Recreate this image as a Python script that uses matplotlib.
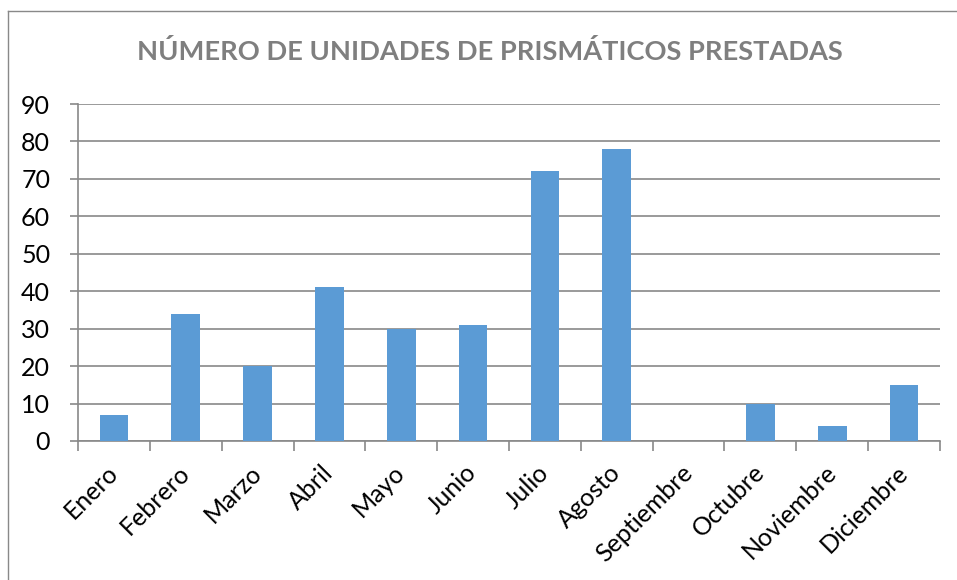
import numpy as np
import matplotlib.pyplot as plt
from matplotlib.lines import Line2D

# Datos
meses = ["Enero", "Febrero", "Marzo", "Abril", "Mayo", "Junio", "Julio",
         "Agosto", "Septiembre", "Octubre", "Noviembre", "Diciembre"]
unidades = [7, 34, 20, 41, 30, 31, 72, 78, 0, 10, 4, 15]
yticks = np.arange(0, 100, 10)

plt.rcParams['font.family'] = ['Lato', 'DejaVu Sans']

W, H = 957, 580
fig = plt.figure(figsize=(W / 100, H / 100), dpi=100)
ax = fig.add_axes([78 / W, 1 - 441 / H, (940 - 78) / W, (441 - 104) / H])

x = np.arange(len(meses))
ax.bar(x, unidades, width=0.4, color="#5B9BD5", zorder=3)

ax.set_xlim(-0.5, len(meses) - 0.5)
ax.set_ylim(0, 90)
ax.set_yticks(yticks)
ax.grid(axis="y", color="#898989", linewidth=1.2, zorder=0)

ax.set_xticks(x)
ax.set_xticklabels(meses, rotation=45, ha="right", va="center",
                   rotation_mode="anchor", fontsize=18)
ax.tick_params(axis="x", length=0, pad=20)
ax.set_xticks(np.arange(-0.5, len(meses)), minor=True)
ax.tick_params(axis="x", which="minor", length=7, color="#898989", width=1.2)
ax.tick_params(axis="y", length=6, color="#898989", width=1.2, labelsize=18, pad=14)

for s in ["top", "right"]:
    ax.spines[s].set_visible(False)
for s in ["left", "bottom"]:
    ax.spines[s].set_color("#898989")
    ax.spines[s].set_linewidth(1.2)

fig.text(490 / W, 1 - 52 / H, "NÚMERO DE UNIDADES DE PRISMÁTICOS PRESTADAS",
         ha="center", va="center", fontsize=19.6, fontweight="bold", color="#7F7F7F")

# marco exterior
fig.add_artist(Line2D([8 / W, 8 / W], [0, 1 - 11 / H], transform=fig.transFigure,
                      color="#898989", linewidth=1))
fig.add_artist(Line2D([8 / W, 1], [1 - 11 / H, 1 - 11 / H], transform=fig.transFigure,
                      color="#898989", linewidth=1))

fig.savefig("out.png", dpi=100)
